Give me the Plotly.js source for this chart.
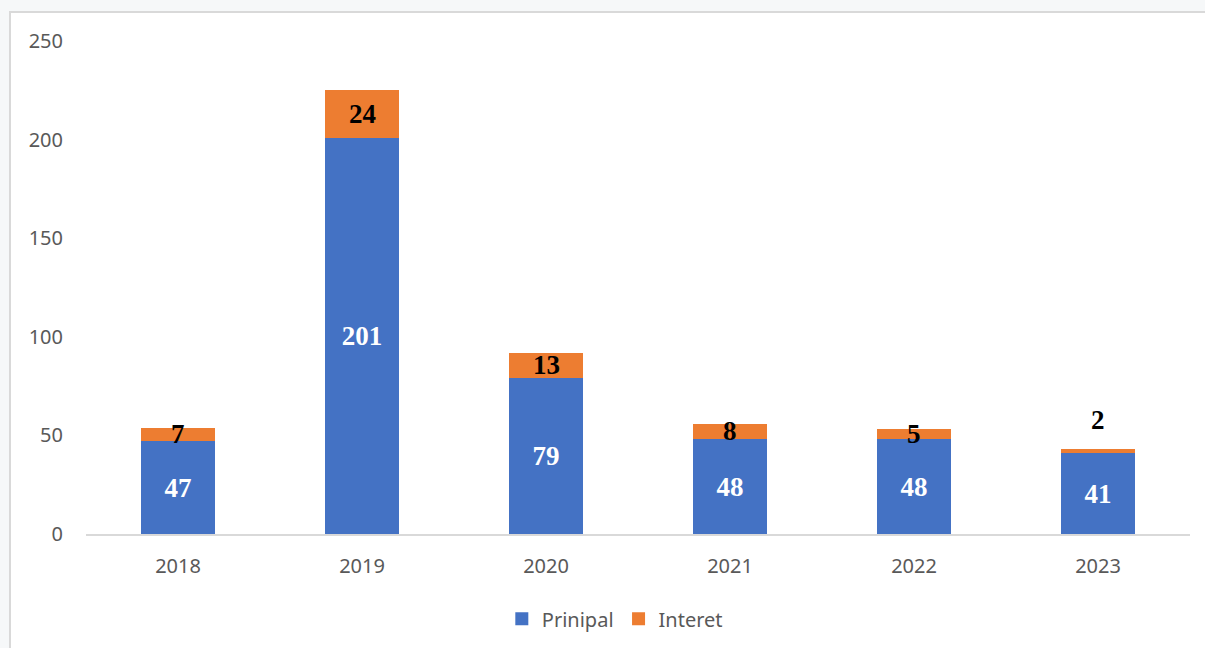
<!DOCTYPE html>
<html>
<head>
<meta charset="utf-8">
<script src="https://cdn.plot.ly/plotly-3.0.1.min.js"></script>
<style>
  html, body { margin: 0; padding: 0; width: 1205px; height: 648px; overflow: hidden; background: #f6f8f9; }
  #frame { position: absolute; left: 9px; top: 11px; width: 1210px; height: 650px; background: #ffffff; border: 2px solid #d9d9d9; box-sizing: border-box; }
  #chart { position: absolute; left: 0; top: 0; width: 1205px; height: 648px; }
</style>
</head>
<body>
<div id="frame"></div>
<div id="chart"></div>
<script>
const years = ['2018', '2019', '2020', '2021', '2022', '2023'];
const principal = [47, 201, 79, 48, 48, 41];
const interest = [7, 24, 13, 8, 5, 2];
const seriesNames = ['Prinipal', 'Interet'];
const seriesColors = ['#4472C4', '#ED7D31'];
const yTicks = [0, 50, 100, 150, 200, 250];

const idx = years.map((_, i) => i);
const labelFont = { family: 'Liberation Serif, Times New Roman, serif', size: 27 };

const traces = [
  {
    type: 'bar', name: seriesNames[0], x: idx, y: principal,
    marker: { color: seriesColors[0] }, showlegend: false,
    text: principal.map(String), textposition: 'inside', insidetextanchor: 'middle',
    textfont: Object.assign({ color: '#ffffff', weight: 'bold' }, labelFont),
    constraintext: 'none', hoverinfo: 'x+y'
  },
  {
    type: 'bar', name: seriesNames[1], x: idx, y: interest,
    marker: { color: seriesColors[1] }, showlegend: false,
    textposition: 'none', hoverinfo: 'x+y'
  }
];
// legend-only entries with larger square swatches
seriesNames.forEach((n, k) => {
  traces.push({
    type: 'scatter', mode: 'markers', name: n, x: [null], y: [null],
    marker: { symbol: 'square', size: 13, color: seriesColors[k] },
    showlegend: true, hoverinfo: 'skip'
  });
});

const annotations = idx.map(i => {
  const small = interest[i] < 4;
  return {
    x: i, xref: 'x', yref: 'y',
    y: small ? principal[i] + interest[i] : principal[i] + interest[i] / 2,
    yanchor: small ? 'bottom' : 'middle',
    yshift: small ? 12 : 0,
    text: '<b>' + interest[i] + '</b>',
    showarrow: false,
    font: Object.assign({ color: '#000000' }, labelFont)
  };
});

const tickFont = { family: 'Noto Sans, Open Sans, sans-serif', size: 20, color: '#595959' };

const layout = {
  width: 1205, height: 648,
  paper_bgcolor: 'rgba(0,0,0,0)', plot_bgcolor: 'rgba(0,0,0,0)',
  margin: { l: 86, r: 15, t: 41, b: 114, autoexpand: false },
  barmode: 'stack', bargap: 0.6,
  xaxis: {
    type: 'linear', range: [-0.5, years.length - 0.5],
    tickvals: idx, ticktext: years,
    tickfont: tickFont, showgrid: false,
    showline: true, linecolor: '#d9d9d9', linewidth: 2,
    ticks: '', zeroline: false, ticklabelstandoff: 13
  },
  yaxis: {
    range: [0, 250], tickvals: yTicks, ticktext: yTicks.map(String),
    tickfont: tickFont, showgrid: false, zeroline: false,
    showline: false, ticks: '', ticklabelstandoff: 22
  },
  showlegend: true,
  legend: {
    orientation: 'h', x: 0.479, xanchor: 'center', y: -0.172, yanchor: 'middle',
    traceorder: 'normal', itemwidth: 30,
    font: { family: 'Noto Sans, Open Sans, sans-serif', size: 20, color: '#595959' },
    bgcolor: 'rgba(0,0,0,0)'
  },
  annotations: annotations,
  font: { family: 'Noto Sans, sans-serif' }
};

Plotly.newPlot('chart', traces, layout, { displayModeBar: false, staticPlot: true });
</script>
</body>
</html>
